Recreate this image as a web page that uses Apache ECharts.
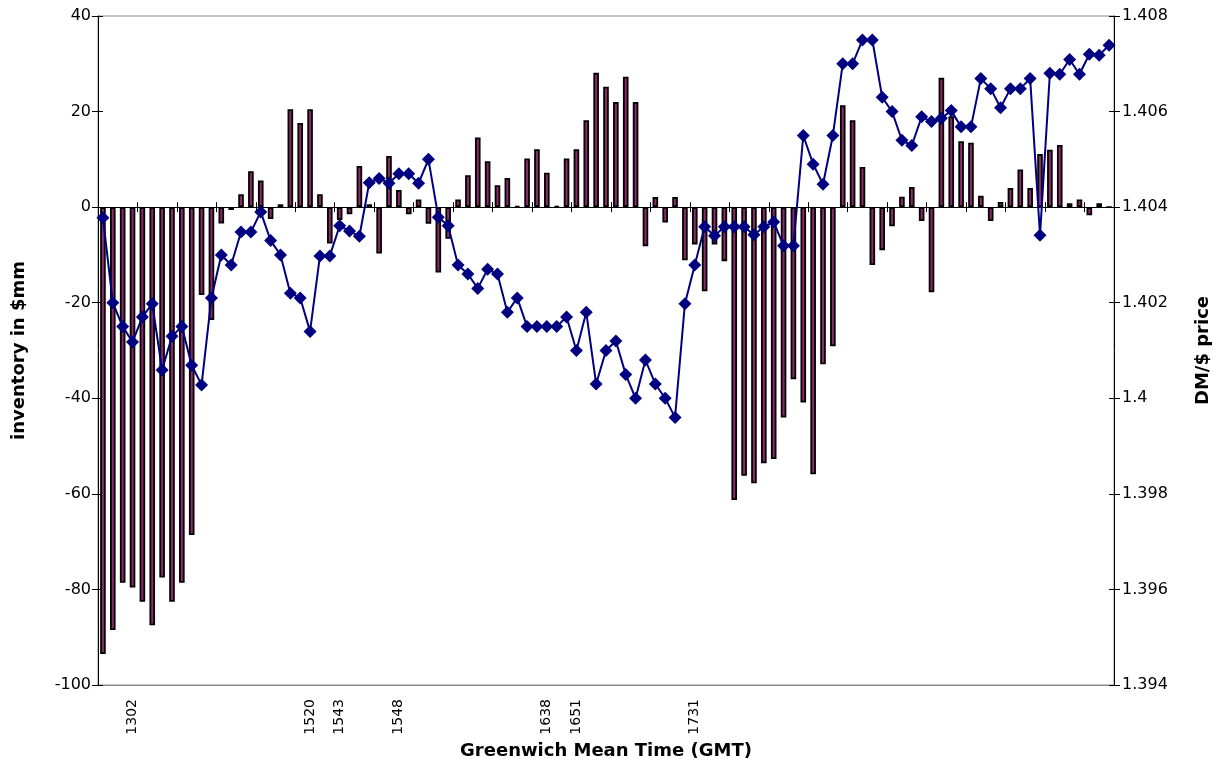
<!DOCTYPE html>
<html>
<head>
<meta charset="utf-8">
<style>
  html, body { margin: 0; padding: 0; background: #fff; }
  #chart { width: 1222px; height: 769px; }
</style>
<script src="https://cdn.jsdelivr.net/npm/echarts@6/dist/echarts.min.js"></script>
</head>
<body>
<div id="chart"></div>
<script>
// Dealer inventory ($mm) and DM/$ price over the trading session
const labelPositions = [3, 21, 24, 30, 45, 48, 60];
const labelTimes = ['1302', '1520', '1543', '1548', '1638', '1651', '1731'];

const inventory = [
  -93.5, -88.5, -78.6, -79.6, -82.6, -87.5, -77.5, -82.6, -78.6, -68.6,
  -18.4, -23.6, -3.4, -0.6, 2.7, 7.5, 5.6, -2.5, 0.6, 20.5,
  17.6, 20.5, 2.7, -7.6, -2.7, -1.5, 8.6, 0.6, -9.7, 10.7,
  3.6, -1.5, 1.6, -3.5, -13.7, -6.6, 1.6, 6.7, 14.6, 9.6,
  4.6, 6.1, 0.2, 10.2, 12.1, 7.2, 0.2, 10.2, 12.1, 18.2,
  28.1, 25.2, 22, 27.3, 22, -8.2, 2.1, -3.2, 2.1, -11.1,
  -7.8, -17.6, -7.8, -11.3, -61.3, -56.2, -57.8, -53.6, -52.7, -44,
  -36, -40.9, -55.9, -32.9, -29.1, 21.3, 18.2, 8.4, -12.1, -9,
  -4, 2.2, 4.2, -2.9, -17.8, 27.1, 19, 13.8, 13.5, 2.4,
  -2.9, 1.1, 4, 7.9, 4, 11.1, 12, 13, 0.8, 1.6,
  -1.7, 0.8, 0
];

const price = [
  1.40378, 1.40200, 1.40150, 1.40118, 1.40170, 1.40198, 1.40059, 1.40130, 1.40150, 1.40069,
  1.40028, 1.40210, 1.40300, 1.40279, 1.40348, 1.40348, 1.40390, 1.40330, 1.40300, 1.40220,
  1.40210, 1.40140, 1.40298, 1.40298, 1.40361, 1.40350, 1.40339, 1.40451, 1.40460, 1.40450,
  1.40470, 1.40470, 1.40450, 1.40500, 1.40379, 1.40361, 1.40279, 1.40260, 1.40230, 1.40270,
  1.40260, 1.40180, 1.40210, 1.40150, 1.40150, 1.40150, 1.40150, 1.40170, 1.40100, 1.40180,
  1.40030, 1.40100, 1.40120, 1.40050, 1.40000, 1.40080, 1.40030, 1.40000, 1.39960, 1.40198,
  1.40279, 1.40359, 1.40340, 1.40359, 1.40359, 1.40359, 1.40342, 1.40359, 1.40369, 1.40319,
  1.40319, 1.40550, 1.40490, 1.40448, 1.40550, 1.40700, 1.40700, 1.40750, 1.40750, 1.40630,
  1.40600, 1.40540, 1.40529, 1.40589, 1.40579, 1.40586, 1.40602, 1.40568, 1.40568, 1.40669,
  1.40648, 1.40608, 1.40648, 1.40648, 1.40669, 1.40341, 1.40680, 1.40678, 1.40709, 1.40678,
  1.40720, 1.40718, 1.40739
];

// Category labels: only a few times are printed along the axis
const categories = inventory.map(() => '');
labelPositions.forEach((p, k) => { categories[p] = labelTimes[k]; });

const FONT = 'DejaVu Sans';
const tickText = { fontFamily: FONT, fontSize: 16, color: '#000' };
const nameText = { fontFamily: FONT, fontSize: 18, fontWeight: 'bold', color: '#000' };

// Axis used only to draw the zero line with its crossing tick marks
function zeroAxis(inside) {
  return {
    type: 'category', data: categories, position: 'top', gridIndex: 0,
    axisLine: { show: !inside, onZero: true, onZeroAxisIndex: 0, lineStyle: { color: '#000', width: 1 } },
    axisTick: { show: true, inside: inside, length: 5, lineStyle: { color: '#000', width: 1 } },
    axisLabel: { show: false }, splitLine: { show: false }
  };
}

const chart = echarts.init(document.getElementById('chart'), null, { renderer: 'canvas' });
chart.setOption({
  animation: false,
  backgroundColor: '#fff',
  grid: {
    left: 98, right: 108, top: 16, bottom: 84,
    show: true, borderColor: '#8c8c8c', borderWidth: 1, backgroundColor: 'transparent'
  },
  xAxis: [
    {
      type: 'category', data: categories, position: 'bottom',
      axisLine: { show: true, onZero: false, lineStyle: { color: '#8c8c8c', width: 1 } },
      axisTick: { show: false },
      axisLabel: { ...tickText, fontSize: 14, interval: 0, rotate: 90, margin: 14 },
      splitLine: { show: false },
      name: 'Greenwich Mean Time (GMT)', nameLocation: 'middle', nameGap: 57,
      nameTextStyle: nameText
    },
    zeroAxis(false),
    zeroAxis(true)
  ],
  yAxis: [
    {
      type: 'value', min: -100, max: 40, interval: 20, position: 'left',
      axisLine: { show: true, lineStyle: { color: '#000', width: 1 } },
      axisTick: { show: true, inside: false, length: 6, lineStyle: { color: '#000' } },
      axisLabel: { ...tickText, margin: 7 },
      splitLine: { show: false },
      name: 'inventory in $mm', nameLocation: 'middle', nameRotate: 90, nameGap: 70,
      nameTextStyle: nameText
    },
    {
      type: 'value', min: 1.394, max: 1.408, interval: 0.002, position: 'right',
      axisLine: { show: true, lineStyle: { color: '#000', width: 1 } },
      axisTick: { show: true, inside: false, length: 6, lineStyle: { color: '#000' } },
      axisLabel: { ...tickText, margin: 8, formatter: v => String(+v.toFixed(3)) },
      splitLine: { show: false },
      name: 'DM/$ price', nameLocation: 'middle', nameRotate: 90, nameGap: 80,
      nameTextStyle: nameText
    },
    {
      type: 'value', min: -100, max: 40, interval: 20, position: 'left',
      axisLine: { show: false },
      axisTick: { show: true, inside: true, length: 5, lineStyle: { color: '#000' } },
      axisLabel: { show: false }, splitLine: { show: false }
    },
    {
      type: 'value', min: 1.394, max: 1.408, interval: 0.002, position: 'right',
      axisLine: { show: false },
      axisTick: { show: true, inside: true, length: 5, lineStyle: { color: '#000' } },
      axisLabel: { show: false }, splitLine: { show: false }
    }
  ],
  series: [
    {
      name: 'inventory', type: 'bar', xAxisIndex: 0, yAxisIndex: 0,
      data: inventory, barWidth: 5.6,
      itemStyle: { color: '#8e2a6c', borderColor: '#000', borderWidth: 1.8 },
      z: 2
    },
    {
      name: 'DM/$', type: 'line', xAxisIndex: 0, yAxisIndex: 1,
      data: price, symbol: 'diamond', symbolSize: 13, showAllSymbol: true,
      lineStyle: { color: '#000080', width: 2 },
      itemStyle: { color: '#000080' },
      z: 4
    }
  ]
});
</script>
</body>
</html>
